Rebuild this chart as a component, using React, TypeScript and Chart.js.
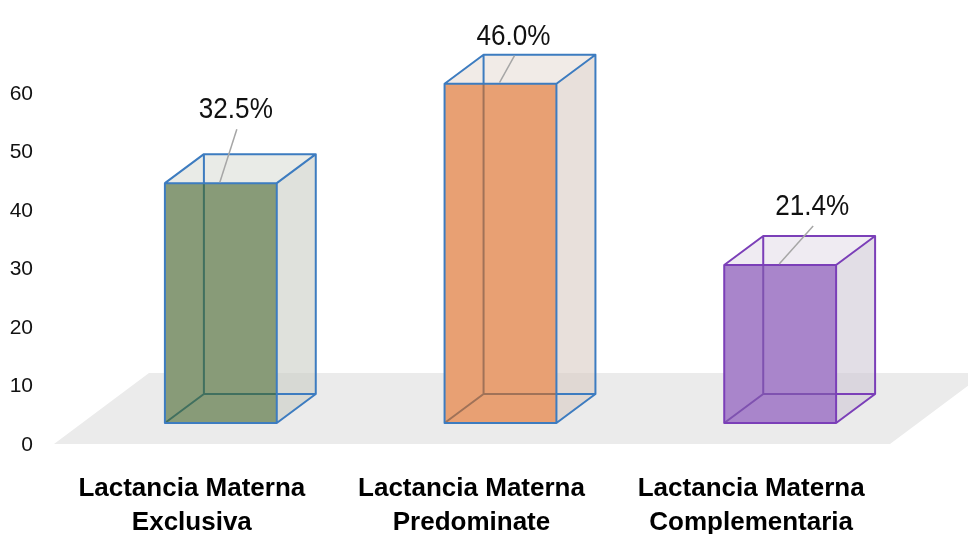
import { useEffect, useRef } from 'react';
import { Chart, registerables } from 'chart.js';

Chart.register(...registerables);

// Feeding categories, counts (n = 126) and the percentage shown above each bar
const categories: string[][] = [
  ['Lactancia Materna', 'Exclusiva'],
  ['Lactancia Materna', 'Predominate'],
  ['Lactancia Materna', 'Complementaria'],
];
const counts: number[] = [41, 58, 27];
const percentLabels: string[] = ['32.5%', '46.0%', '21.4%'];

// Axis range
const yMin = 0;
const yMax = 60;
const yStep = 10;

// Box colours: front face, translucent side/top faces, edges, edges seen through the front
const frontColors = ['#889b78', '#e8a073', '#a985cb'];
const sideColors = ['rgba(202,205,197,0.6)', 'rgba(217,203,195,0.6)', 'rgba(207,200,213,0.6)'];
const topColors = ['rgba(218,222,215,0.6)', 'rgba(232,222,215,0.6)', 'rgba(228,222,233,0.6)'];
const edgeColors = ['#3d7cc0', '#3d7cc0', '#7b3fb8'];
const innerEdgeColors = ['#41705f', '#a07258', '#7f52b0'];

// Where each value label sits relative to the top-front centre of its box
const labelShift: [number, number][] = [[15, -65], [13, -39], [32, -50]];

// Depth vector of the boxes
const DX = 39;
const DY = -29;

const FONT = "'Liberation Sans', Arial, sans-serif";

const boxPlugin = {
  id: 'boxes3d',
  beforeDatasetsDraw(chart: any) {
    const { ctx, chartArea } = chart;
    const base = chart.scales.y.getPixelForValue(0);
    const { left, right } = chartArea;
    // grey floor under the boxes
    ctx.save();
    ctx.fillStyle = '#ebebeb';
    ctx.beginPath();
    ctx.moveTo(left - 27, base + 21);
    ctx.lineTo(left - 27 + 95, base - 50);
    ctx.lineTo(right + 65, base - 50);
    ctx.lineTo(right - 30, base + 21);
    ctx.closePath();
    ctx.fill();
    ctx.restore();
  },
  afterDatasetsDraw(chart: any) {
    const { ctx } = chart;
    const meta = chart.getDatasetMeta(0);
    meta.data.forEach((el: any, i: number) => {
      const { x, y, base, width } = el.getProps(['x', 'y', 'base', 'width'], true);
      const l = x - width / 2;
      const r = x + width / 2;
      const t = y;
      const b = base;
      ctx.save();

      // side face
      ctx.fillStyle = sideColors[i];
      ctx.beginPath();
      ctx.moveTo(r, t);
      ctx.lineTo(r + DX, t + DY);
      ctx.lineTo(r + DX, b + DY);
      ctx.lineTo(r, b);
      ctx.closePath();
      ctx.fill();

      // top face
      ctx.fillStyle = topColors[i];
      ctx.beginPath();
      ctx.moveTo(l, t);
      ctx.lineTo(l + DX, t + DY);
      ctx.lineTo(r + DX, t + DY);
      ctx.lineTo(r, t);
      ctx.closePath();
      ctx.fill();

      ctx.lineWidth = 2;
      ctx.lineJoin = 'round';

      // hidden edges showing through the front face
      ctx.strokeStyle = innerEdgeColors[i];
      ctx.beginPath();
      ctx.moveTo(l + DX, t);
      ctx.lineTo(l + DX, b + DY);
      ctx.lineTo(r, b + DY);
      ctx.moveTo(l, b);
      ctx.lineTo(l + DX, b + DY);
      ctx.stroke();

      // visible edges
      ctx.strokeStyle = edgeColors[i];
      ctx.beginPath();
      ctx.rect(l, t, width, b - t);
      ctx.moveTo(l, t);
      ctx.lineTo(l + DX, t + DY);
      ctx.lineTo(r + DX, t + DY);
      ctx.lineTo(r, t);
      ctx.moveTo(l + DX, t + DY);
      ctx.lineTo(l + DX, t);
      ctx.moveTo(r + DX, t + DY);
      ctx.lineTo(r + DX, b + DY);
      ctx.lineTo(r, b);
      ctx.moveTo(r, b + DY);
      ctx.lineTo(r + DX, b + DY);
      ctx.stroke();

      // value label with leader line
      const [sx, sy] = labelShift[i];
      const lx = x + sx;
      const ly = t + sy;
      ctx.strokeStyle = '#a6a6a6';
      ctx.lineWidth = 1.5;
      ctx.beginPath();
      ctx.moveTo(lx + 1, ly + 11);
      ctx.lineTo(x - 1, t - 1);
      ctx.stroke();

      ctx.translate(lx, ly);
      ctx.scale(0.9, 1);
      ctx.fillStyle = '#111';
      ctx.font = `29px ${FONT}`;
      ctx.textAlign = 'center';
      ctx.textBaseline = 'alphabetic';
      ctx.fillText(percentLabels[i], 0, 0);
      ctx.restore();
    });
  },
};

export default function App() {
  const canvasRef = useRef<HTMLCanvasElement | null>(null);

  useEffect(() => {
    const canvas = canvasRef.current;
    if (!canvas) return;
    const chart = new Chart(canvas, {
      type: 'bar',
      data: {
        labels: categories,
        datasets: [
          {
            data: counts,
            backgroundColor: frontColors,
            borderWidth: 0,
            barPercentage: 0.4,
            categoryPercentage: 1,
          },
        ],
      },
      options: {
        responsive: false,
        animation: false,
        devicePixelRatio: 1,
        layout: { padding: { left: 10, right: 48, top: 72, bottom: 2 } },
        plugins: {
          legend: { display: false },
          tooltip: { enabled: false },
        },
        scales: {
          x: {
            grid: { display: false, drawTicks: false },
            border: { display: false },
            afterFit: (scale: any) => {
              scale.height = 111;
            },
            ticks: {
              color: '#000',
              font: { family: FONT, size: 26, weight: 'bold', lineHeight: 1.3 },
              padding: 49,
              labelOffset: -29,
              maxRotation: 0,
              autoSkip: false,
            },
          },
          y: {
            min: yMin,
            max: yMax,
            grid: { display: false, drawTicks: false },
            border: { display: false },
            afterFit: (scale: any) => {
              scale.width = 71;
            },
            ticks: {
              stepSize: yStep,
              color: '#111',
              font: { family: FONT, size: 21 },
              padding: 48,
              labelOffset: 22,
            },
          },
        },
      },
      plugins: [boxPlugin],
    });
    return () => chart.destroy();
  }, []);

  return (
    <div style={{ position: 'absolute', left: 0, top: 0, width: 968, height: 536, background: '#fff' }}>
      <canvas ref={canvasRef} width={968} height={536} />
    </div>
  );
}
